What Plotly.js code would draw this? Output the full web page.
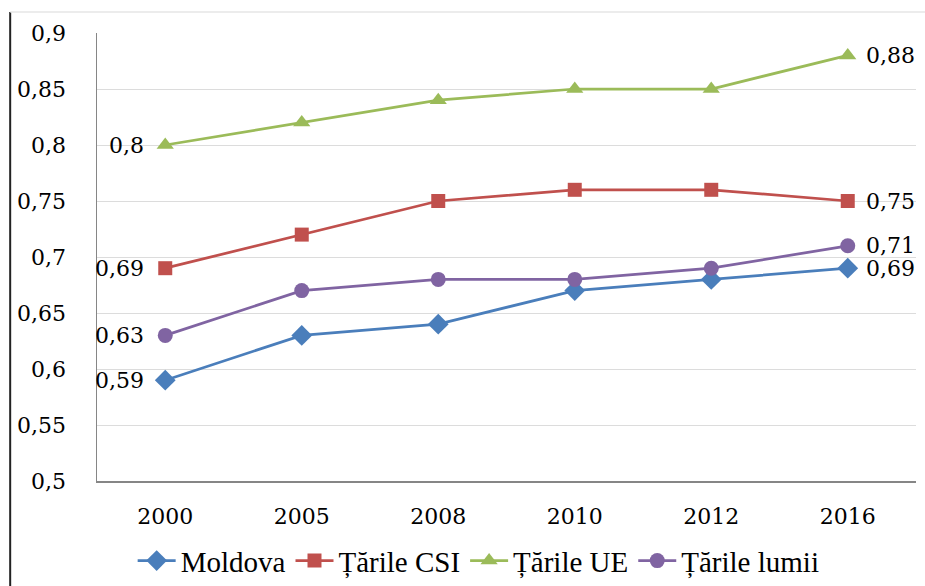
<!DOCTYPE html>
<html>
<head>
<meta charset="utf-8">
<script src="https://cdn.plot.ly/plotly-3.0.1.min.js"></script>
<style>html,body{margin:0;padding:0;background:#fff;}#chart{width:925px;height:586px;}</style>
</head>
<body>
<div id="chart"></div>
<script>
const years = ["2000", "2005", "2008", "2010", "2012", "2016"];
const moldova = [0.59, 0.63, 0.64, 0.67, 0.68, 0.69];
const csi = [0.69, 0.72, 0.75, 0.76, 0.76, 0.75];
const ue = [0.80, 0.82, 0.84, 0.85, 0.85, 0.88];
const lumii = [0.63, 0.67, 0.68, 0.68, 0.69, 0.71];
const names = ["Moldova", "Țările CSI", "Țările UE", "Țările lumii"];
const colors = ["#4a7ebb", "#c0504d", "#9bbb59", "#8064a2"];
const symbols = ["diamond", "square", "triangle-up", "circle"];
const sizes = [16, 14, 15, 15];
const series = [moldova, csi, ue, lumii];

const fmt = v => String(v).replace(".", ",");
const traces = series.map((vals, i) => ({
  x: years,
  y: vals,
  name: names[i],
  type: "scatter",
  mode: "lines+markers",
  line: {color: colors[i], width: 2.75},
  marker: {symbol: symbols[i], size: sizes[i], color: colors[i]},
  cliponaxis: false,
  hoverinfo: "x+y"
}));

const annotations = [];
series.forEach((vals, i) => {
  const last = vals.length - 1;
  annotations.push({x: 0, y: vals[0], xref: "x", yref: "y", text: fmt(vals[0]),
    showarrow: false, xanchor: "right", yanchor: "middle", xshift: -19,
    font: {family: "DejaVu Serif, serif", size: 22, color: "#000"}});
  annotations.push({x: last, y: vals[last], xref: "x", yref: "y", text: fmt(vals[last]),
    showarrow: false, xanchor: "left", yanchor: "middle", xshift: 16,
    font: {family: "DejaVu Serif, serif", size: 22, color: "#000"}});
});

const layout = {
  width: 925, height: 586,
  margin: {l: 97, r: 9, t: 33, b: 105, autoexpand: false},
  paper_bgcolor: "#fff", plot_bgcolor: "#fff",
  separators: ",.",
  font: {family: "DejaVu Serif, serif", size: 22, color: "#000"},
  showlegend: true,
  legend: {orientation: "h", x: 0.466, xanchor: "center", y: -0.178, yanchor: "middle",
    font: {family: "Liberation Serif, serif", size: 29, color: "#000"}, itemwidth: 38, tracegroupgap: 0},
  annotations: annotations,
  xaxis: {type: "category", range: [-0.5, 5.5], showgrid: false, showline: true, linecolor: "#868686", linewidth: 1.5,
    ticks: "", ticklabelstandoff: 15, zeroline: false, fixedrange: true},
  yaxis: {range: [0.5, 0.9], dtick: 0.05, tick0: 0.5, showgrid: true, gridcolor: "#dcdcdc", gridwidth: 1,
    showline: true, linecolor: "#868686", linewidth: 1.5, ticks: "", ticklabelstandoff: 25,
    zeroline: false, fixedrange: true},
  shapes: [
    {type: "line", xref: "paper", yref: "paper", x0: -0.106, x1: -0.106, y0: 1.047, y1: -0.25,
      line: {color: "#222", width: 2}},
    {type: "line", xref: "paper", yref: "paper", x0: -0.106, x1: 1.02, y0: 1.047, y1: 1.047,
      line: {color: "#e6e6e6", width: 1.5}}
  ]
};

Plotly.newPlot("chart", traces, layout, {displayModeBar: false, staticPlot: true});
</script>
</body>
</html>
